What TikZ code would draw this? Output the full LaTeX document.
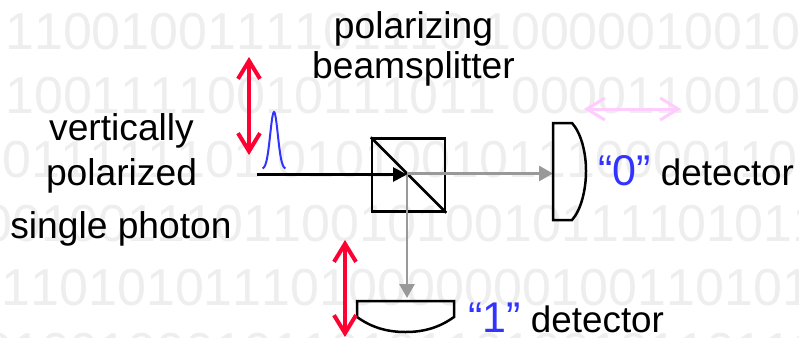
\documentclass[tikz,border=0pt]{standalone}
\usepackage{fontspec}
\setmainfont{Liberation Sans}
\newfontfamily\bitfont[Kerning=Off]{Liberation Sans}
\usetikzlibrary{arrows.meta}
\definecolor{digitgray}{HTML}{EEEEEE}
\definecolor{polred}{HTML}{FF0033}
\definecolor{polpink}{HTML}{FFCCFF}
\definecolor{bitblue}{HTML}{3333FF}
\definecolor{beamgray}{HTML}{999999}
\newcommand{\bitmark}[1]{{\fontsize{43}{43}\selectfont\textcolor{bitblue}{#1}}}
\tikzset{
  bits/.style={anchor=base west, inner sep=0pt, text=digitgray, font=\bitfont\fontsize{52}{52}\selectfont},
  caption/.style={anchor=base, inner sep=0pt, font=\fontsize{37.2}{37.2}\selectfont},
  detlabel/.style={anchor=base west, inner sep=0pt, font=\fontsize{36.8}{36.8}\selectfont},
  polarrow/.style={line width=#1, {Straight Barb[length=18pt,width=22pt,line width=#1]}-{Straight Barb[length=18pt,width=22pt,line width=#1]}},
  beam/.style={line width=2.8pt, -{Triangle[length=14pt,width=15pt]}},
  outline/.style={draw, line width=2.5pt},
}
\begin{document}
\begin{tikzpicture}[x=1pt,y=-1pt]

      \useasboundingbox (0,0) rectangle (799,337);
      \clip (0,0) rectangle (799,337);

      \begin{scope}[every node/.style={bits}]
        \node (row1) at (5,49)     {1100100111101110 10000010010};
        \node (row2) at (5,113)    {10011110010111011 0000110010};
        \node (row3) at (2.5,177)  {011111101 0101001011100001100};
        \node (row4) at (-17,241)  {00100111011001010010111101011};
        \node (row5) at (-27.5,305) {011010101110100000001001101011};
        \node (row6) at (-17,369)  {01001000101101011010010110110};
      \end{scope}

      \begin{scope}[every node/.style={caption}]
        \node (polarizing) at (413.5,38) {polarizing};
        \node (splitter)   at (413.5,78) {beamsplitter};
        \node (vertically) at (121.5,140) {vertically};
        \node (polarized)  at (121.5,185) {polarized};
        \node (photon)     at (121,238) {single photon};
      \end{scope}

      \begin{scope}[every node/.style={detlabel}]
        \node (label0) at (598,185) {\bitmark{“0”} detector};
        \node (label1) at (468,332) {\bitmark{“1”} detector};
      \end{scope}

      \node[outline, inner sep=0pt, minimum size=73pt] (bs) at (408.5,175) {};
      \draw[line width=2.5pt] (bs.north west) -- (bs.south east);

      \coordinate (source) at (257,174.5);
      \coordinate (hit) at (407,174.5);
      \coordinate (split) at (407,173.5);
      \coordinate (det0) at (553,173.5);
      \coordinate (det1) at (407,298);

      \draw[beamgray, beam] (split) -- (det0);
      \draw[beamgray, beam] (split) -- (det1);
      \draw[line width=2.8pt, -{Triangle[length=14pt,width=14pt]}] (source) -- (hit);

      \draw[outline] (553,123) -- (572,123) .. controls (581,133) and (586,152) .. (586,171) .. controls (586,190) and (581,210) .. (572,220) -- (553,220) -- cycle;
      \draw[outline] (357,301) -- (454,301) -- (454,317) .. controls (440,327) and (425,332) .. (405.5,332) .. controls (386,332) and (371,327) .. (357,317) -- cycle;

      \coordinate (red1a) at (249,57);
      \coordinate (red1b) at (249,155);
      \coordinate (red2a) at (345,240);
      \coordinate (red2b) at (345,337);
      \coordinate (pink1) at (584,109);
      \coordinate (pink2) at (681,109);

      \draw[polred, polarrow=4pt] (red1a) -- (red1b);
      \draw[polred, polarrow=4pt] (red2a) -- (red2b);
      \draw[polpink, polarrow=3pt] (pink1) -- (pink2);

      \draw[bitblue, line width=2pt] plot[domain=-11.5:11.5, samples=41, smooth] ({274+\x}, {169-57*exp(-(\x*\x)/(2*3.8*3.8))});

    \end{tikzpicture}
\end{document}
